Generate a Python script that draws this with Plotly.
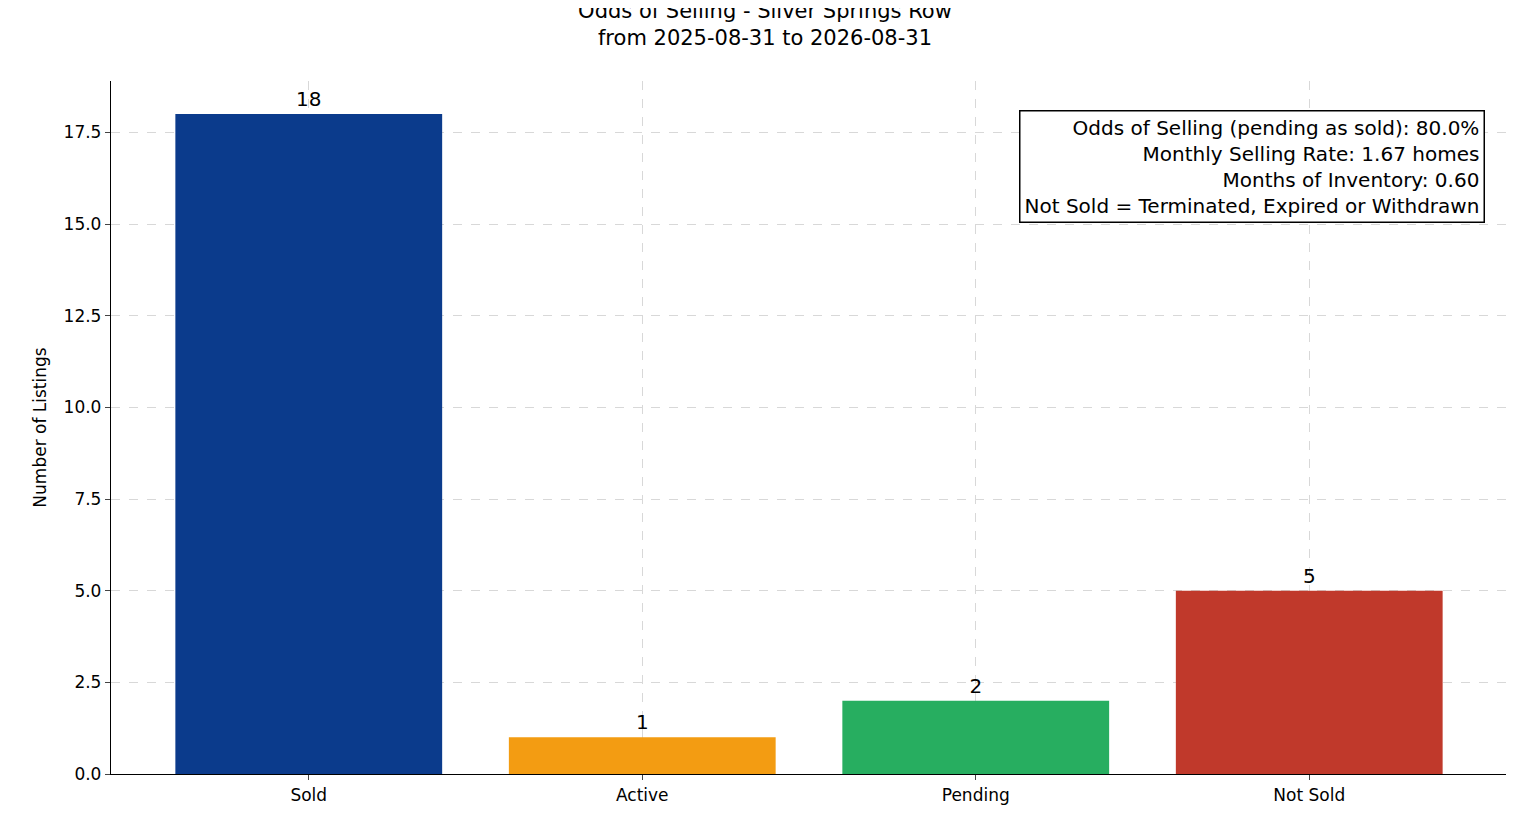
import plotly.graph_objects as go

categories = ["Sold", "Active", "Pending", "Not Sold"]
counts = [18, 1, 2, 5]
colors = ["#0b3b8c", "#f39c12", "#27ae60", "#c0392b"]
info_lines = ["Odds of Selling (pending as sold): 80.0%",
              "Monthly Selling Rate: 1.67 homes",
              "Months of Inventory: 0.60",
              "Not Sold = Terminated, Expired or Withdrawn"]
yticks = [0, 2.5, 5, 7.5, 10, 12.5, 15, 17.5]

fig = go.Figure(go.Bar(x=categories, y=counts, marker_color=colors, width=0.8,
                       marker_line_width=0,
                       text=[str(c) for c in counts], textposition="outside",
                       textfont=dict(size=20, color="black"), cliponaxis=False))
font = "DejaVu Sans"
fig.update_layout(
    width=1514, height=816, plot_bgcolor="white", paper_bgcolor="white",
    margin=dict(l=103, r=15, t=73, b=50),
    font=dict(family=font, size=16, color="black"),
    title=dict(text="Odds of Selling - Silver Springs Row<br>from 2025-08-31 to 2026-08-31",
               x=0.5, xanchor="center", yref="container", y=0.988, yanchor="top",
               font=dict(size=21)),
    showlegend=False,
)
fig.update_xaxes(range=[-0.593, 3.593], showline=True, linecolor="black", linewidth=1.3,
                 ticks="outside", ticklen=5, showgrid=True, gridcolor="#d8d8d8",
                 gridwidth=0.7, griddash="dash", layer="above traces",
                 tickfont=dict(size=17))
fig.update_yaxes(range=[0, 18.9], tickvals=yticks, ticktext=[f"{v:.1f}" for v in yticks],
                 showline=True, linecolor="black", linewidth=1.3, ticks="outside", ticklen=5,
                 showgrid=True, gridcolor="#d8d8d8", gridwidth=0.7, griddash="dash",
                 zeroline=False, layer="above traces",
                 title=dict(text="Number of Listings", font=dict(size=17), standoff=12),
                 tickfont=dict(size=17))
fig.add_annotation(xref="paper", yref="paper", x=0.984, y=0.958, xanchor="right", yanchor="top",
                   align="right", text="<br>".join(info_lines), showarrow=False,
                   font=dict(size=20, color="black"), bordercolor="black", borderwidth=1.5,
                   borderpad=4, bgcolor="white")
fig.write_html("out.html")
